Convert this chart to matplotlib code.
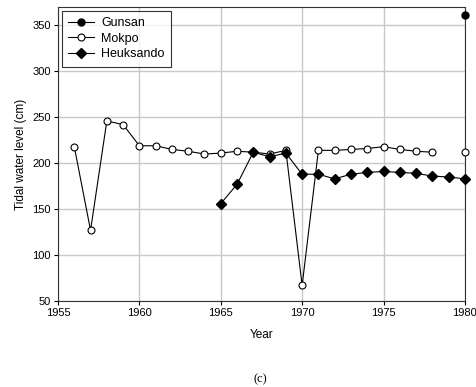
import numpy as np
import matplotlib
matplotlib.use("Agg")
import matplotlib.pyplot as plt

plt.rcParams['font.family'] = ['Liberation Sans', 'DejaVu Sans']

gunsan_years = [1980]
gunsan_level = [361]

mokpo_years = [1956, 1957, 1958, 1959, 1960, 1961, 1962, 1963, 1964, 1965, 1966,
               1967, 1968, 1969, 1970, 1971, 1972, 1973, 1974, 1975, 1976, 1977,
               1978, 1979, 1980]
mokpo_level = [218, 127, 246, 242, 219, 219, 215, 213, 210, 211, 213,
               212, 210, 214, 67, 214, 214, 215, 216, 218, 215, 213,
               212, np.nan, 212]

heuk_years = [1965, 1966, 1967, 1968, 1969, 1970, 1971, 1972, 1973, 1974, 1975,
              1976, 1977, 1978, 1979, 1980]
heuk_level = [156, 177, 212, 207, 211, 188, 188, 183, 188, 190, 191,
              190, 189, 186, 185, 183]

fig = plt.figure(figsize=(4.77, 3.87), dpi=100)
ax = fig.add_axes([0.1216, 0.222, 0.853, 0.76])

ax.plot(gunsan_years, gunsan_level, '-o', color='black', mfc='black', mec='black',
        ms=5, lw=0.8, label='Gunsan', clip_on=False, zorder=4)
ax.plot(mokpo_years, mokpo_level, '-o', color='black', mfc='white', mec='black',
        ms=5, lw=0.8, mew=0.8, label='Mokpo', clip_on=False, zorder=3)
ax.plot(heuk_years, heuk_level, '-D', color='black', mfc='black', mec='black',
        ms=5, lw=0.8, label='Heuksando', clip_on=False, zorder=3)

ax.set_xlim(1955, 1980)
ax.set_ylim(50, 370)
ax.set_xticks([1955, 1960, 1965, 1970, 1975, 1980])
ax.set_yticks([50, 100, 150, 200, 250, 300, 350])
ax.grid(True, color='#c8c8c8', lw=1)
ax.set_axisbelow(True)
ax.tick_params(direction='out', length=3, width=0.8, labelsize=8, pad=2)
for s in ax.spines.values():
    s.set_linewidth(0.8)
    s.set_color('#333333')

ax.set_xlabel('Year', fontsize=8.5, labelpad=8)
ax.set_ylabel('Tidal water level (cm)', fontsize=8.5, labelpad=4)

leg = ax.legend(loc='upper left', fontsize=9, frameon=True, fancybox=False,
                edgecolor='black', borderaxespad=0.3, handlelength=2.1,
                handletextpad=0.55, labelspacing=0.3, borderpad=0.5)
leg.get_frame().set_linewidth(0.8)

fig.text(0.545, 0.012, '(c)', fontsize=9, family=['Liberation Serif', 'DejaVu Serif'],
         ha='center')

fig.savefig('out.png', dpi=100)
